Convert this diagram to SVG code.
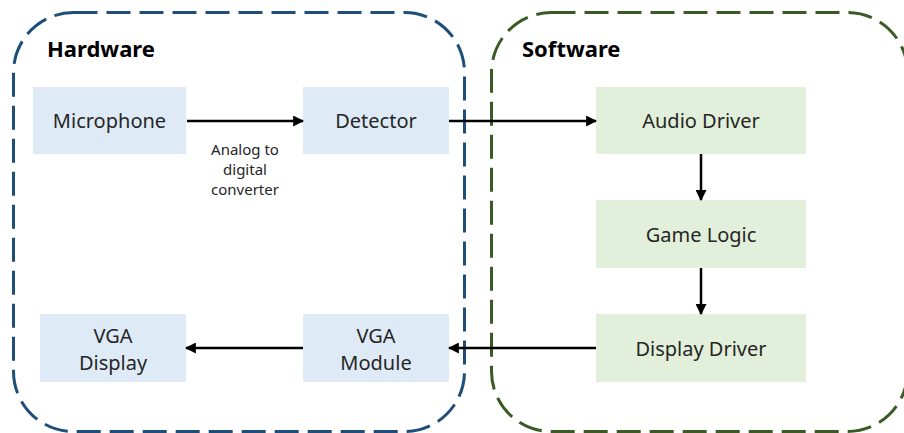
<svg xmlns="http://www.w3.org/2000/svg" width="904" height="433" viewBox="0 0 904 433">
<style>
.hw{fill:none;stroke:#1f4e79;stroke-width:3;stroke-dasharray:24 9}
.sw{fill:none;stroke:#3b5b26;stroke-width:3;stroke-dasharray:24 9}
.title{font-family:"Noto Sans","Open Sans",sans-serif;font-weight:bold;font-size:22px;fill:#000}
.hbox{fill:#deebf7}
.sbox{fill:#e2efda}
.lbl{font-family:"Noto Sans","Open Sans",sans-serif;font-size:20px;fill:#262626;text-anchor:middle}
.small{font-family:"Noto Sans","Open Sans",sans-serif;font-size:15px;fill:#262626;text-anchor:middle}
.conn{stroke:#000;stroke-width:2.5;fill:none;marker-end:url(#ah)}
</style>
<defs>
<marker id="ah" viewBox="0 0 10 10" refX="9" refY="5" markerWidth="4.4" markerHeight="4.4" markerUnits="strokeWidth" orient="auto">
<path d="M0,0 L10,5 L0,10 z" fill="#000"/>
</marker>
</defs>
<rect width="904" height="433" fill="#fff"/>
<g id="hardware">
<rect class="hw" x="13.5" y="12.5" width="451" height="419" rx="60"/>
<text class="title" x="47" y="57">Hardware</text>
</g>
<g id="software">
<rect class="sw" x="491.5" y="12.5" width="416" height="419" rx="60"/>
<text class="title" x="522" y="57">Software</text>
</g>
<g id="microphone">
<rect class="hbox" x="33" y="87" width="153" height="67"/>
<text class="lbl" x="109.5" y="128">Microphone</text>
</g>
<g id="detector">
<rect class="hbox" x="303" y="87" width="146" height="67"/>
<text class="lbl" x="376" y="128">Detector</text>
</g>
<g id="vga-display">
<rect class="hbox" x="40" y="314" width="146" height="68"/>
<text class="lbl" x="113" y="343">VGA</text>
<text class="lbl" x="113" y="370">Display</text>
</g>
<g id="vga-module">
<rect class="hbox" x="303" y="314" width="146" height="68"/>
<text class="lbl" x="376" y="343">VGA</text>
<text class="lbl" x="376" y="370">Module</text>
</g>
<g id="audio-driver">
<rect class="sbox" x="596" y="87" width="210" height="67"/>
<text class="lbl" x="701" y="128">Audio Driver</text>
</g>
<g id="game-logic">
<rect class="sbox" x="596" y="200" width="210" height="68"/>
<text class="lbl" x="701" y="242">Game Logic</text>
</g>
<g id="display-driver">
<rect class="sbox" x="596" y="314" width="210" height="68"/>
<text class="lbl" x="701" y="356">Display Driver</text>
</g>
<g id="connectors">
<line class="conn" x1="187" y1="121" x2="303" y2="121"/>
<line class="conn" x1="449" y1="121" x2="596" y2="121"/>
<line class="conn" x1="701" y1="154" x2="701" y2="200"/>
<line class="conn" x1="701" y1="268" x2="701" y2="314"/>
<line class="conn" x1="596" y1="348" x2="449" y2="348"/>
<line class="conn" x1="303" y1="348" x2="186" y2="348"/>
<text class="small" x="245" y="155">Analog to</text>
<text class="small" x="245" y="175">digital</text>
<text class="small" x="245" y="195">converter</text>
</g>
</svg>
